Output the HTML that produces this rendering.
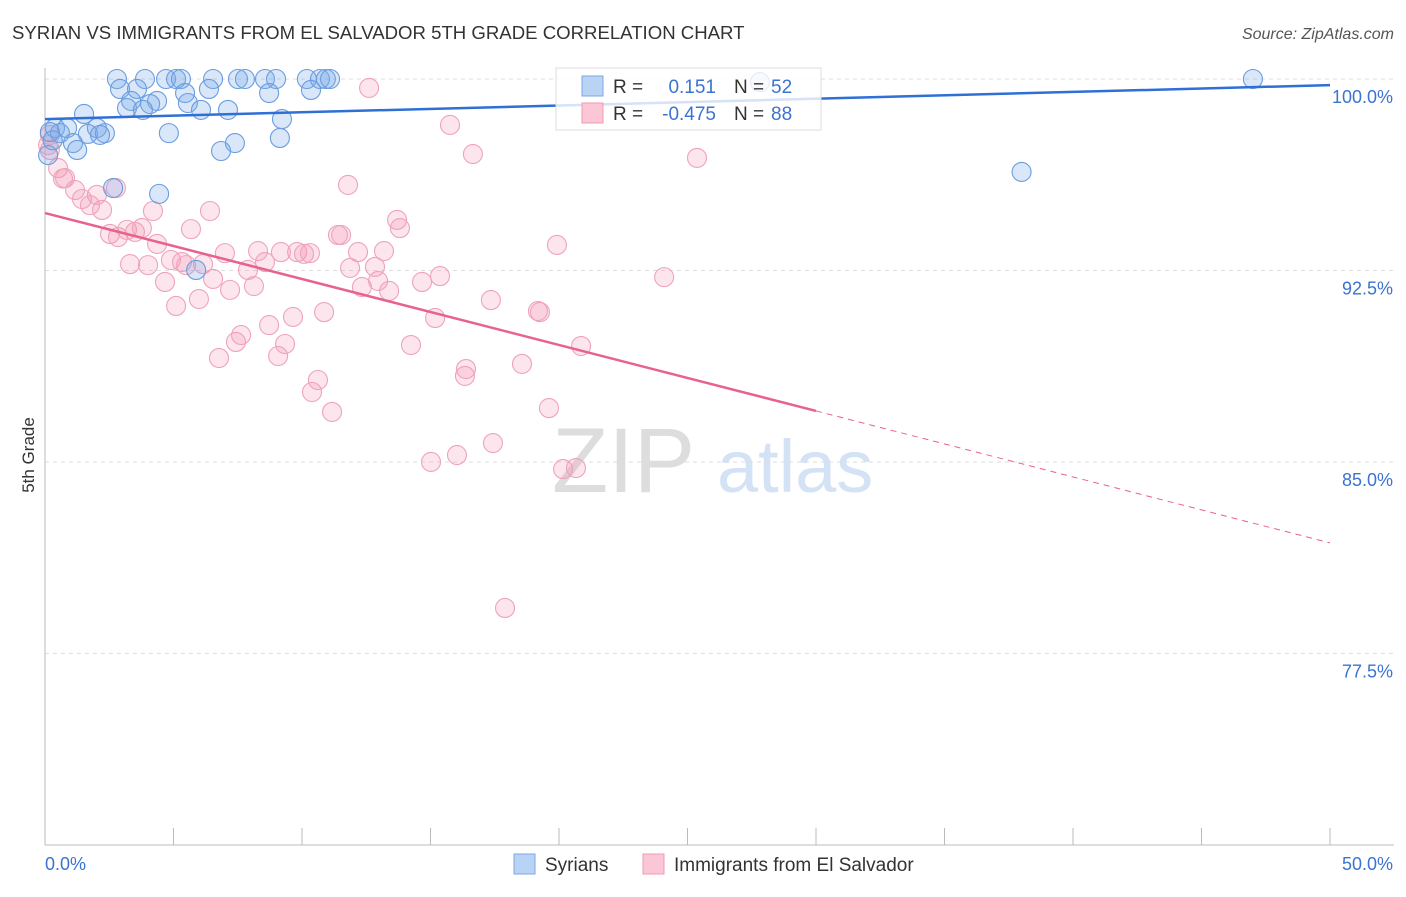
<!DOCTYPE html>
<html><head><meta charset="utf-8"><style>
body{margin:0;background:#fff;font-family:"Liberation Sans",sans-serif}
svg text{font-family:"Liberation Sans",sans-serif}
</style></head><body>
<svg id="chart" width="1406" height="892" xmlns="http://www.w3.org/2000/svg">
<text x="12" y="39" font-size="18.6" fill="#333">SYRIAN VS IMMIGRANTS FROM EL SALVADOR 5TH GRADE CORRELATION CHART</text>
<text x="1394" y="39" font-size="16" fill="#555" font-style="italic" text-anchor="end">Source: ZipAtlas.com</text>
<g>
<text x="552" y="492" font-size="92" fill="#ddd" font-family="Liberation Serif,serif">ZIP</text>
<text x="717" y="492" font-size="74" fill="#d3e2f5">atlas</text>
</g>
<g id="grid"></g>
<g id="axes"></g>
<g id="pts"></g>
<g id="lines"></g>
<g>
<rect x="556" y="68" width="265" height="62" fill="rgba(255,255,255,0.8)" stroke="#ddd"/>
<rect x="582" y="76" width="21" height="20" fill="#b9d3f5" stroke="#7aa7e6"/>
<rect x="582" y="103" width="21" height="20" fill="#fbc6d5" stroke="#f09ab5"/>
<text x="613" y="93" font-size="19" fill="#333">R =</text>
<text x="716" y="93" font-size="19" fill="#3b73d1" text-anchor="end">0.151</text>
<text x="734" y="93" font-size="19" fill="#333">N =</text>
<text x="771" y="93" font-size="19" fill="#3b73d1">52</text>
<text x="613" y="120" font-size="19" fill="#333">R =</text>
<text x="716" y="120" font-size="19" fill="#3b73d1" text-anchor="end">-0.475</text>
<text x="734" y="120" font-size="19" fill="#333">N =</text>
<text x="771" y="120" font-size="19" fill="#3b73d1">88</text>
</g>
<text transform="translate(34,455) rotate(-90)" font-size="17" fill="#333" text-anchor="middle">5th Grade</text>
<g>
<rect x="514" y="854" width="21" height="20" fill="#b9d3f5" stroke="#7aa7e6"/>
<text x="545" y="871" font-size="19" fill="#333">Syrians</text>
<rect x="643" y="854" width="21" height="20" fill="#fbc6d5" stroke="#f09ab5"/>
<text x="674" y="871" font-size="19" fill="#333">Immigrants from El Salvador</text>
</g>
</svg>
<script>
const yTicks=[100,92.5,85,77.5];
const yTickLabels=["100.0%","92.5%","85.0%","77.5%"];
const xTicks=[0,5,10,15,20,25,30,35,40,45,50];
const xEndLabels=["0.0%","50.0%"];
const syrX=[2.80,3.89,4.71,5.10,5.29,6.54,7.51,7.78,8.56,8.99,10.19,10.70,10.93,11.09,47.0,27.82,2.92,3.58,5.45,6.38,8.72,10.35,3.35,4.36,5.56,4.09,3.19,3.81,6.07,7.12,1.52,9.22,0.39,0.86,2.02,1.67,2.33,0.58,0.19,1.09,4.82,7.39,9.14,6.85,1.25,38.0,2.65,4.44,5.88,0.12,2.14,0.3];
const syrY=[100,100,100,100,100,100,100,100,100,100,100,100,100,100,100,99.88,99.61,99.61,99.45,99.61,99.45,99.57,99.14,99.14,99.06,99.02,98.86,98.79,98.79,98.79,98.63,98.43,98.08,98.08,98.08,97.85,97.88,97.88,97.92,97.49,97.88,97.49,97.69,97.18,97.22,96.36,95.73,95.50,92.52,97.02,97.81,97.6];
const salX=[0.19,0.51,0.78,1.17,1.44,1.75,2.02,2.22,2.76,2.53,2.84,3.19,3.50,3.77,4.20,4.36,3.31,4.01,4.67,4.90,5.33,5.49,5.10,5.99,6.15,6.42,6.54,5.68,6.77,7.00,7.20,7.43,7.63,7.90,8.13,8.29,8.56,8.72,9.07,9.34,9.18,9.65,9.81,10.08,10.31,10.39,10.62,10.86,11.17,11.40,11.52,11.79,11.87,12.18,12.33,12.61,12.84,12.96,13.19,13.39,13.70,13.81,14.24,14.67,15.02,15.18,15.37,15.76,16.03,16.34,16.38,16.65,17.35,17.43,17.90,18.56,19.18,19.26,19.61,19.92,20.16,20.66,20.86,24.09,25.37,0.19,0.12,0.7];
const salY=[97.22,96.51,96.12,95.65,95.30,95.06,95.46,94.87,95.73,93.93,93.81,94.09,94.01,94.16,94.83,93.54,92.75,92.71,92.05,92.91,92.83,92.71,91.11,91.38,92.75,94.83,92.17,94.12,89.07,93.18,91.74,89.70,89.97,92.52,91.89,93.26,92.83,90.36,89.15,89.62,93.22,90.68,93.22,93.15,93.18,87.74,88.21,90.87,86.96,93.89,93.89,95.85,92.60,93.22,91.85,99.65,92.64,92.09,93.26,91.70,94.48,94.16,89.58,92.05,85.00,90.64,92.28,98.20,85.27,88.37,88.64,97.06,91.34,85.74,79.28,88.84,90.91,90.87,87.11,93.50,84.72,84.76,89.54,92.24,96.91,97.81,97.41,96.1];
const syrTrend=[98.43,99.76];
const salTrend=[94.75,81.83];
const salSolidEnd=30;
const X=v=>45+v*25.7, Y=v=>79+(100-v)*25.53;
const NS="http://www.w3.org/2000/svg";
function mk(t,a,p){const e=document.createElementNS(NS,t);for(const k in a)e.setAttribute(k,a[k]);p.appendChild(e);return e;}
const grid=document.getElementById('grid'),axes=document.getElementById('axes'),pts=document.getElementById('pts'),lines=document.getElementById('lines');
yTicks.forEach((v,i)=>{
 const l=mk('line',{x1:45,x2:1394,y1:Y(v),y2:Y(v),stroke:'#ddd','stroke-dasharray':'4,4'},grid);
 
 
 const t=mk('text',{x:1393,y:Y(v)+24,'font-size':18,fill:'#3b73d1','text-anchor':'end'},axes);
 t.textContent=yTickLabels[i];
 
 
});
const ya=mk('line',{x1:45,x2:45,y1:68,y2:845,stroke:'#bbb'},axes);


const xa=mk('line',{x1:45,x2:1394,y1:845,y2:845,stroke:'#bbb'},axes);


xTicks.forEach(v=>{
 const l=mk('line',{x1:X(v),x2:X(v),y1:828,y2:845,stroke:'#bbb'},axes);
 
 
});
[[0,'start',45],[1,'end',1393]].forEach(([i,a,x])=>{
 const t=mk('text',{x:x,y:870,'font-size':18,fill:'#3b73d1','text-anchor':a},axes);
 t.textContent=xEndLabels[i];
 
 
});
salX.forEach((v,i)=>{
 const c=mk('circle',{cx:X(v),cy:Y(salY[i]),r:9.5,fill:'rgba(244,150,180,0.25)',stroke:'#efa3bb','stroke-width':1.1},pts);
 
 
});
syrX.forEach((v,i)=>{
 const c=mk('circle',{cx:X(v),cy:Y(syrY[i]),r:9.5,fill:'rgba(120,170,235,0.28)',stroke:'#6a9de0','stroke-width':1.1},pts);
 
 
});
const st=x=>salTrend[0]+(salTrend[1]-salTrend[0])*x/50;
const b=mk('line',{x1:X(0),y1:Y(syrTrend[0]),x2:X(50),y2:Y(syrTrend[1]),stroke:'#2f6fd6','stroke-width':2.5},lines);


const p=mk('line',{x1:X(0),y1:Y(st(0)),x2:X(salSolidEnd),y2:Y(st(salSolidEnd)),stroke:'#e8628e','stroke-width':2.5},lines);


const pd=mk('line',{x1:X(salSolidEnd),y1:Y(st(salSolidEnd)),x2:X(50),y2:Y(st(50)),stroke:'#e8628e','stroke-width':1,'stroke-dasharray':'6,5'},lines);


</script>
</body></html>
